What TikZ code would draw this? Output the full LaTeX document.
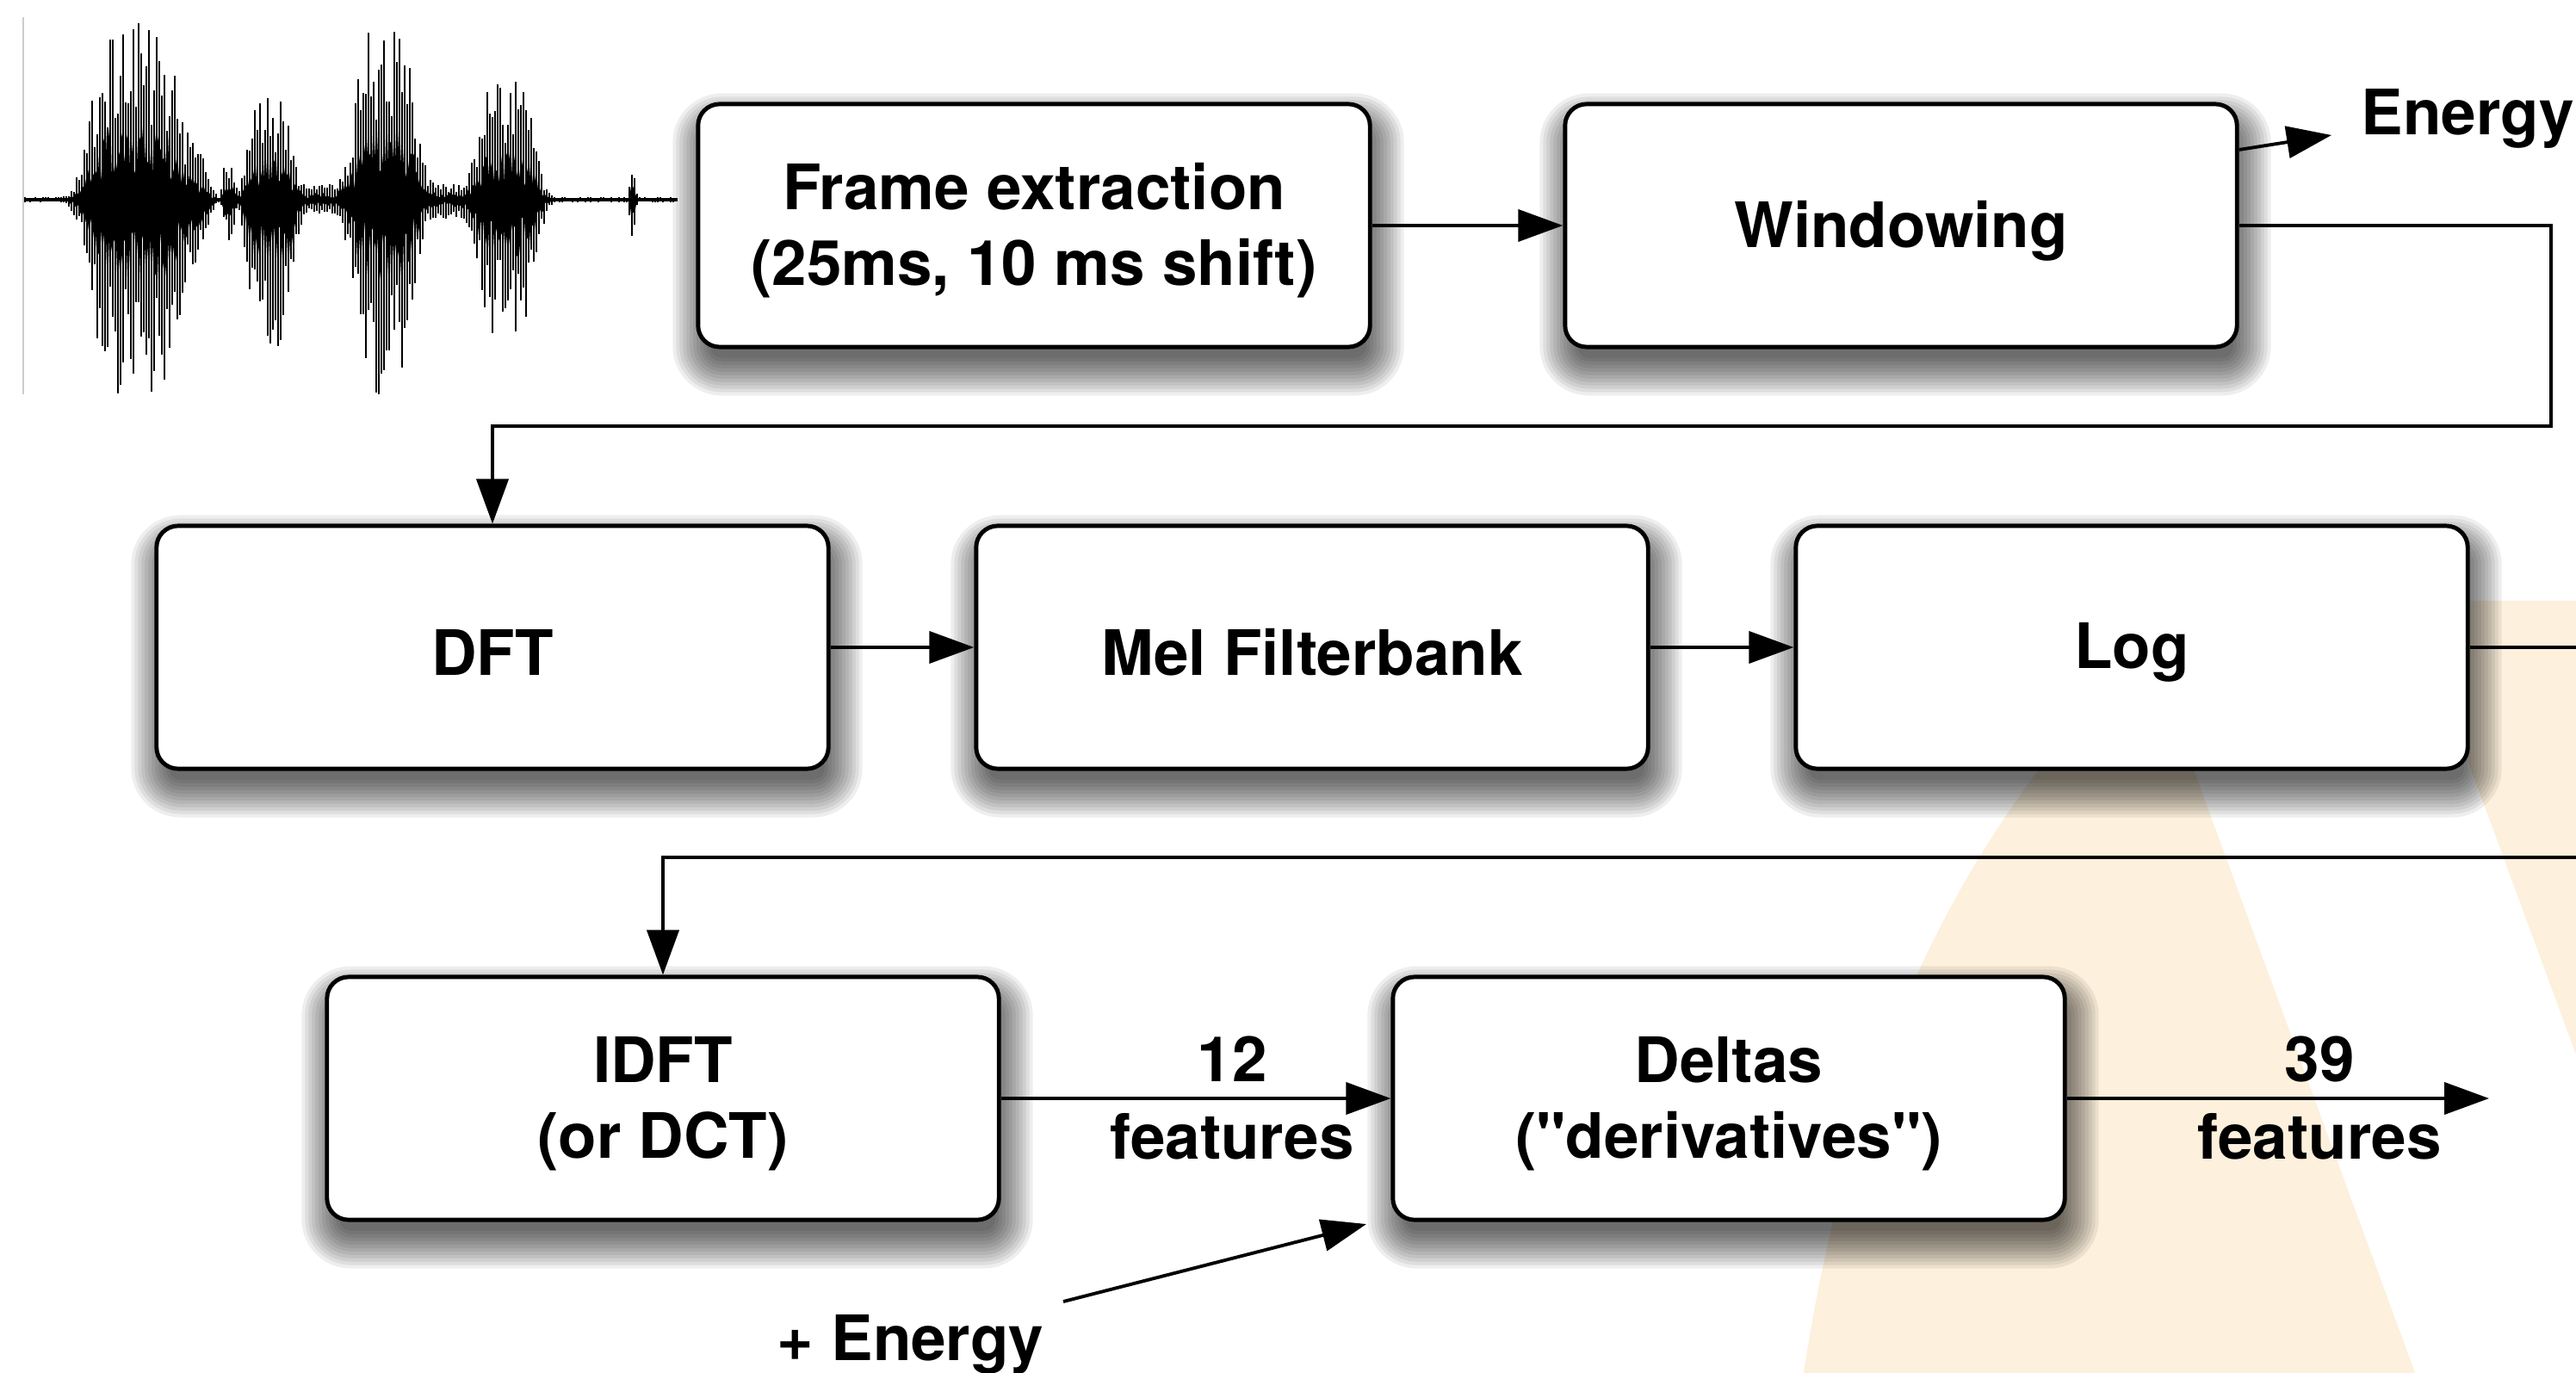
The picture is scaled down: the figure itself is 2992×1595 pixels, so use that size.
\documentclass[tikz,border=0pt]{standalone}
\usepackage{fontspec}
\setmainfont{TeX Gyre Heros}
\newfontfamily\hvplain{TeX Gyre Heros}
\usetikzlibrary{arrows.meta,calc}
\definecolor{cream}{RGB}{253,240,220}
\pgfdeclarelayer{back}
\pgfdeclarelayer{shadowlayer}
\pgfsetlayers{back,shadowlayer,main}
\begin{document}
\begin{tikzpicture}[x=0.01cm,y=-0.01cm,
  boxtext/.style={align=center, inner sep=0pt, yshift=-0.06cm,
    font=\hvplain\fontsize{20.7}{25}\selectfont\bfseries},
  box/.style={draw, line width=1.4pt, rounded corners=0.25cm, fill=white,
    minimum width=7.8cm, minimum height=2.82cm, inner sep=0pt,
    label={[boxtext]center:#1}},
  lbl/.style={font=\hvplain\fontsize{20.7}{25}\selectfont\bfseries, inner sep=0pt},
  conn/.style={line width=1.1pt},
  arr/.style={conn, -{Triangle[length=0.52cm,width=0.37cm]}},
  wave/.style={line width=0.5pt},
  declare function={
    gg(\t,\c,\w)=exp(-1*pow(min(abs(\t-\c)/\w,2.5),4));
    eu(\t)=195*gg(\t,152,52)+60*gg(\t,215,28)+45*gg(\t,266,8)+114*gg(\t,315,30)+16*gg(\t,378,25)+194*gg(\t,447,40)+16*gg(\t,518,25)+130*gg(\t,588,38)+38*gg(\t,735,4)+3;
    ed(\t)=220*gg(\t,152,52)+78*gg(\t,215,28)+45*gg(\t,266,8)+175*gg(\t,315,30)+14*gg(\t,378,25)+214*gg(\t,447,40)+18*gg(\t,518,25)+152*gg(\t,588,38)+40*gg(\t,735,4)+3;
  }]
\useasboundingbox (0,0) rectangle (2992,1595);
\begin{pgfonlayer}{back}
  \fill[white] (0,0) rectangle (2992,1595);
  \fill[cream] (2095,1595) .. controls (2150,1230) and (2280,960) .. (2495,750) -- (2805,1595) -- cycle;
  \fill[cream] (2798,698) -- (2992,698) -- (2992,1225) -- cycle;
\end{pgfonlayer}

% waveform
\draw[gray!40, line width=0.6pt] (27,20) -- (27,458);
\pgfmathsetseed{11}
\fill[black] plot[domain=30:786, samples=500] (\x,{232-eu(\x)*(0.12+0.33*rnd)}) -- plot[domain=786:30, samples=500] (\x,{232+ed(\x)*(0.12+0.33*rnd)}) -- cycle;
\foreach \x in {29,32,...,786}{
  \pgfmathsetmacro\u{eu(\x)*(0.45+0.6*rnd)}
  \pgfmathsetmacro\d{ed(\x)*(0.45+0.6*rnd)}
  \draw[wave] (\x,{232-min(\u,215)}) -- (\x,{232+min(\d,226)});
}
\draw[line width=1.2pt] (28,232) -- (787,232);

% boxes
\node[box={Frame extraction\\(25ms, 10 ms shift)}] (fe) at (1201,262) {};
\node[box={Windowing}] (win) at (2208,262) {};
\node[box={DFT}] (dft) at (572,752) {};
\node[box={Mel Filterbank}] (mel) at (1524,752) {};
\node[box={Log}] (log) at (2476,752) {};
\node[box={IDFT\\(or DCT)}] (idft) at (770,1276) {};
\node[box={Deltas\\("derivatives")}] (del) at (2008,1276) {};

% labels
\node[lbl, anchor=base west] (energy) at (2742,157) {Energy};
\node[lbl, anchor=base west] (plusE) at (902,1580) {+ Energy};
\node[lbl, anchor=base] (n12) at (1431,1256) {12};
\node[lbl, anchor=base] (f12) at (1431,1346) {features};
\node[lbl, anchor=base] (n39) at (2694,1256) {39};
\node[lbl, anchor=base] (f39) at (2694,1346) {features};

% coordinates
\coordinate (etip) at (2708,157);
\coordinate (wr) at (2963,495);
\coordinate (r1) at (2992,752);
\coordinate (r2) at (2992,996);
\coordinate (out) at (2891,1276);
\coordinate (pe1) at (1235,1512);
\coordinate (pe2) at (1587,1422);

% connectors
\draw[arr] (fe) -- (win);
\draw[arr] ([yshift=0.88cm]win.east) -- (etip);
\draw[arr] (win.east) -| (wr) -| (dft.north);
\draw[arr] (dft) -- (mel);
\draw[arr] (mel) -- (log);
\draw[conn] (log.east) -- (r1);
\draw[arr] (r2) -| (idft.north);
\draw[arr] (idft) -- (del);
\draw[arr] (del.east) -- (out);
\draw[arr] (pe1) -- (pe2);

% shadows
\begin{pgfonlayer}{shadowlayer}
\foreach \n in {fe,win,dft,mel,log,idft,del}{
  \foreach \e in {-12,-8,...,32}{
    \pgfmathsetmacro\rr{max(0.05,0.25+(\e)/100)}
    \fill[black, opacity=0.065, rounded corners=\rr cm]
      ([xshift={(5-(\e))*0.01cm}, yshift={(-22-(\e))*0.01cm}]\n.south west) rectangle
      ([xshift={(5+(\e))*0.01cm}, yshift={(-22+(\e))*0.01cm}]\n.north east);
  }
}
\end{pgfonlayer}
\end{tikzpicture}
\end{document}
